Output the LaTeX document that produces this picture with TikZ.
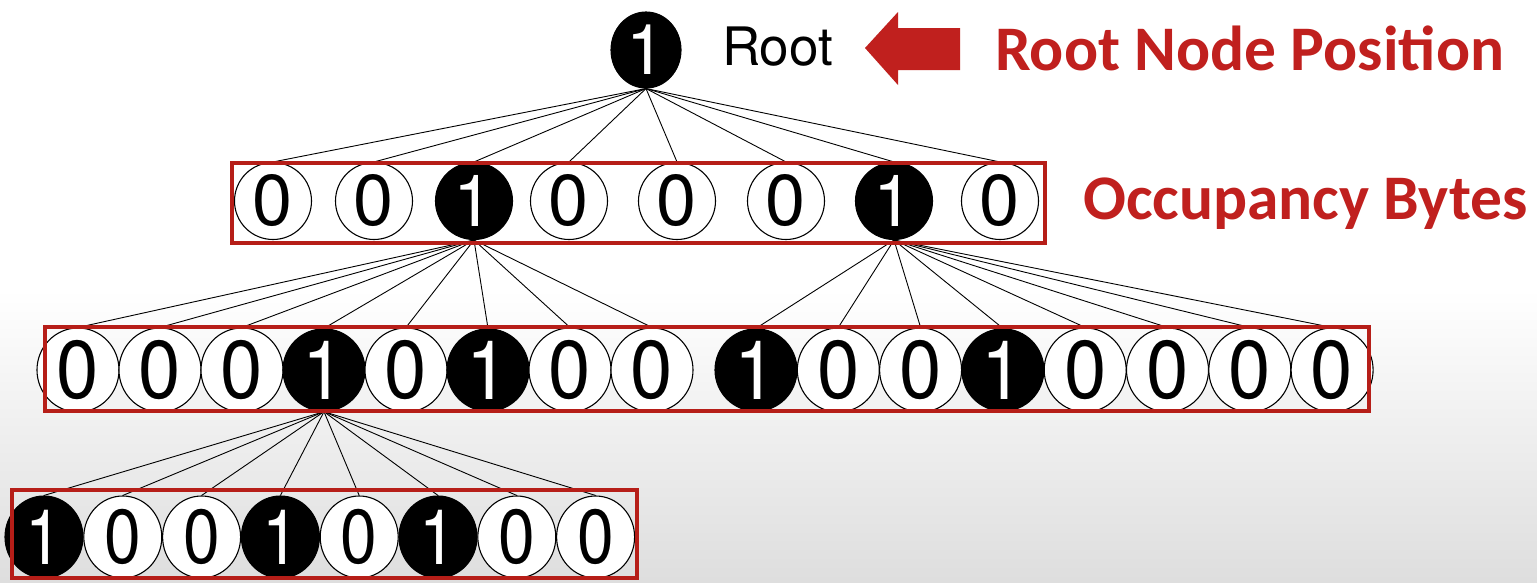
\documentclass[tikz,border=0pt]{standalone}
\usepackage{fontspec}
\usepackage{graphicx}
\setmainfont{TeX Gyre Heros}
\newfontfamily\labfont{Carlito}
\usetikzlibrary{shapes.geometric}
\definecolor{redlab}{RGB}{192,32,30}
\definecolor{boxred}{RGB}{182,30,24}
\begin{document}
\begin{tikzpicture}[x=1pt,y=-1pt,
  bitbase/.style={ellipse, draw=black, line width=1.1pt, inner sep=0pt},
  zeroA/.style={bitbase, fill=white, minimum width=77, minimum height=77, font=\fontsize{72}{72}\selectfont},
  oneA/.style={zeroA, fill=black, text=white},
  zeroB/.style={bitbase, fill=white, minimum width=82, minimum height=76, font=\fontsize{76}{76}\selectfont},
  oneB/.style={zeroB, fill=black, text=white},
  zeroC/.style={bitbase, fill=white, minimum width=78, minimum height=82, font=\fontsize{66}{66}\selectfont},
  oneC/.style={zeroC, fill=black, text=white},
  edge/.style={draw=black, line width=0.9pt},
  redbox/.style={draw=boxred, line width=3.8pt},
  redlabel/.style={text=redlab, font=\labfont\bfseries\fontsize{63.5}{63.5}\selectfont, anchor=base west, inner sep=0pt}
]
\useasboundingbox (0,0) rectangle (1537,582);
\fill[white] (0,0) rectangle (1537,290);
\shade[top color=white, bottom color=black!13] (0,289) rectangle (1537,582);

% root
\node[bitbase, fill=black, text=white, minimum width=70, minimum height=76, font=\fontsize{70}{70}\selectfont] (root) at (646,50) {1};
\node[anchor=base west, inner sep=0pt, font=\fontsize{53}{53}\selectfont] (roottext) at (722,65) {Root};
\fill[redlab] (865,48) -- (898,12) -- (898,28) -- (960,28) -- (960,70) -- (898,70) -- (898,85) -- cycle;
\node[redlabel] (rnp) at (995,70) {Root Node Position};
\node[redlabel] (occ) at (1083,219) {Occupancy Bytes};

% row 1
\foreach \x/\b [count=\i] in {273/0,374/0,474/1,569/0,677/0,786/0,894/1,1000/0}{
  \ifnum\b=1 \node[oneA] (a\i) at (\x,201) {1};
  \else \node[zeroA] (a\i) at (\x,201) {0}; \fi
}
% row 2
\foreach \b [count=\i] in {0,0,0,1,0,1,0,0}{
  \pgfmathsetmacro{\xx}{78+82*(\i-1)}
  \ifnum\b=1 \node[oneB] (b\i) at (\xx,370) {\scalebox{1}[1.08]{1}};
  \else \node[zeroB] (b\i) at (\xx,370) {\scalebox{1}[1.08]{0}}; \fi
}
\foreach \b [count=\j] in {1,0,0,1,0,0,0,0}{
  \pgfmathsetmacro{\xx}{756+82.3*(\j-1)}
  \pgfmathtruncatemacro{\k}{\j+8}
  \ifnum\b=1 \node[oneB] (b\k) at (\xx,370) {\scalebox{1}[1.08]{1}};
  \else \node[zeroB] (b\k) at (\xx,370) {\scalebox{1}[1.08]{0}}; \fi
}
% row 3
\foreach \b [count=\i] in {1,0,0,1,0,1,0,0}{
  \pgfmathsetmacro{\xx}{44+78.8*(\i-1)}
  \ifnum\b=1 \node[oneC] (c\i) at (\xx,537) {\scalebox{1}[1.16]{1}};
  \else \node[zeroC] (c\i) at (\xx,537) {\scalebox{1}[1.16]{0}}; \fi
}

% connectors
\foreach \i in {1,...,8}{ \draw[edge] (root.south) -- (a\i.north); }
\foreach \i in {1,...,8}{ \draw[edge] (a3.south) -- (b\i.north); }
\foreach \i in {9,...,16}{ \draw[edge] (a7.south) -- (b\i.north); }
\foreach \i in {1,...,8}{ \draw[edge] (b4.south) -- (c\i.north); }

% boxes
\draw[redbox] (232,163) rectangle (1045,243);
\draw[redbox] (45,327) rectangle (1369,411);
\draw[redbox] (12,490) rectangle (637,578);
\end{tikzpicture}
\end{document}
